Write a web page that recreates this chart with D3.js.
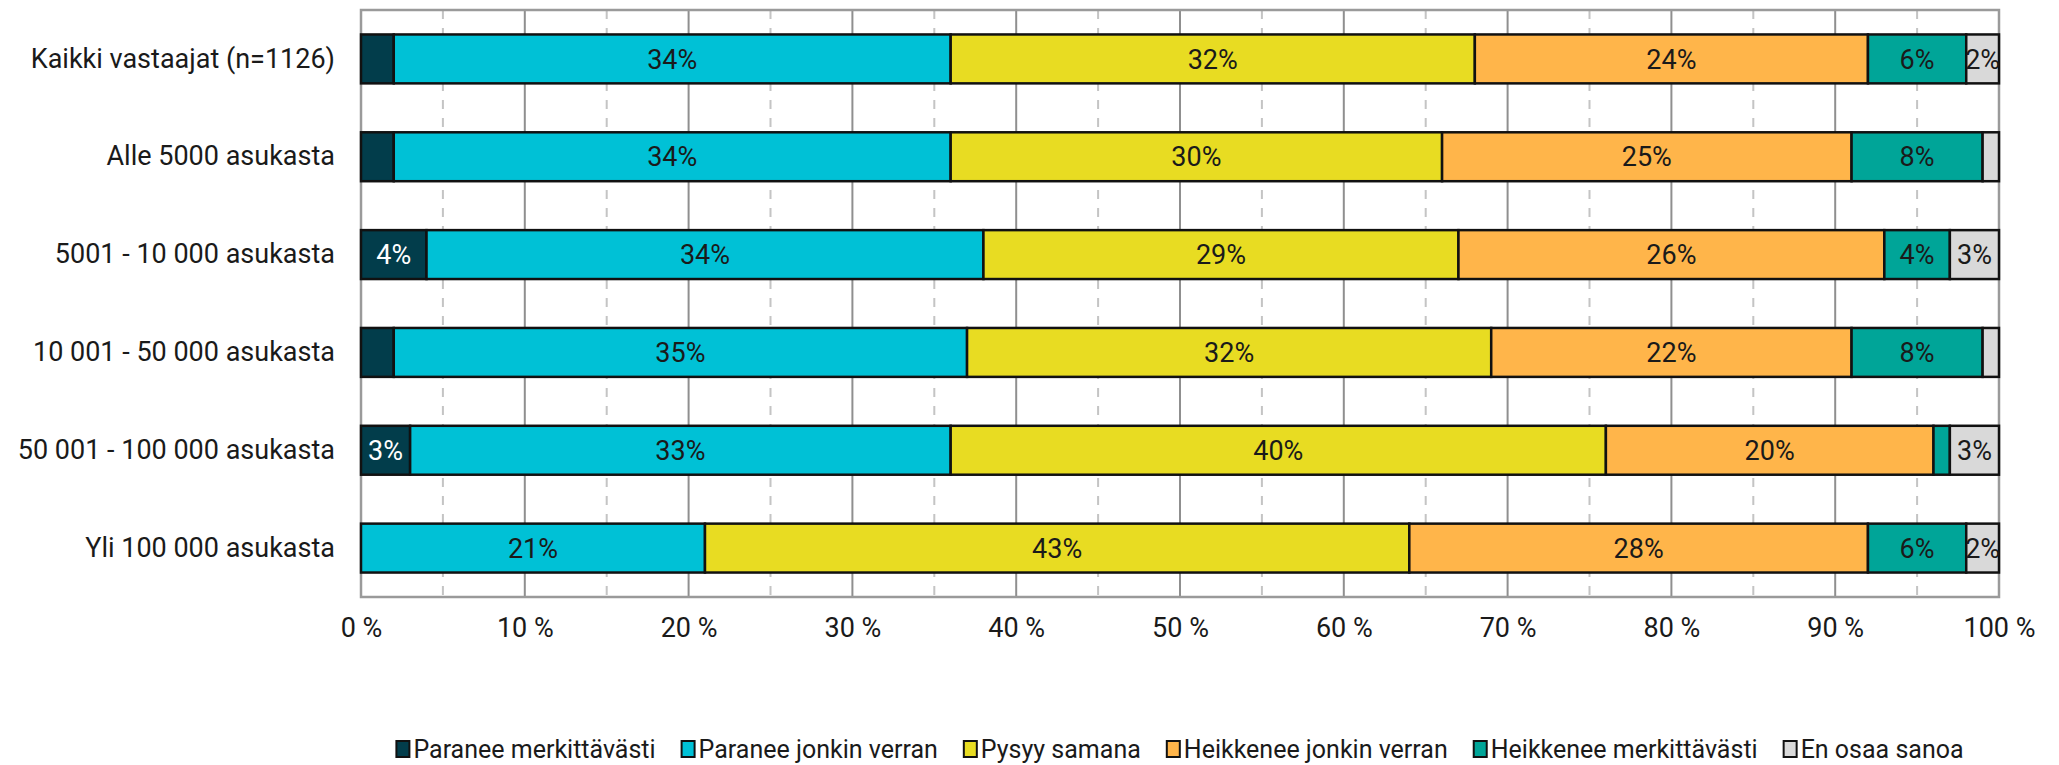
<!DOCTYPE html>
<html>
<head>
<meta charset="utf-8">
<script src="https://cdn.jsdelivr.net/npm/d3@7"></script>
<style>
  body { margin: 0; background: #fff; }
  svg text { font-family: Roboto, "Liberation Sans", sans-serif; fill: #1a1a1a; }
</style>
</head>
<body>
<svg id="chart" width="2059" height="765"></svg>
<script>
const categories = [
  'Kaikki vastaajat (n=1126)',
  'Alle 5000 asukasta',
  '5001 - 10 000 asukasta',
  '10 001 - 50 000 asukasta',
  '50 001 - 100 000 asukasta',
  'Yli 100 000 asukasta'
]
const seriesNames = [
  'Paranee merkittävästi',
  'Paranee jonkin verran',
  'Pysyy samana',
  'Heikkenee jonkin verran',
  'Heikkenee merkittävästi',
  'En osaa sanoa'
]
const paraneeMerkittavasti = [2, 2, 4, 2, 3, 0]
const paraneeJonkin = [34, 34, 34, 35, 33, 21]
const pysyySamana = [32, 30, 29, 32, 40, 43]
const heikkeneeJonkin = [24, 25, 26, 22, 20, 28]
const heikkeneeMerkittavasti = [6, 8, 4, 8, 1, 6]
const enOsaa = [2, 1, 3, 1, 3, 2]
const xTicks = [0, 10, 20, 30, 40, 50, 60, 70, 80, 90, 100]

const colors = ['#023d4b', '#00c1d6', '#e8dc22', '#ffb54a', '#00a598', '#d9d9d9']
const seriesValues = [paraneeMerkittavasti, paraneeJonkin, pysyySamana, heikkeneeJonkin, heikkeneeMerkittavasti, enOsaa]

const rows = categories.map((c, i) => {
  const r = { cat: c }
  seriesNames.forEach((s, j) => { r[s] = seriesValues[j][i] })
  return r
})

const svg = d3.select('#chart')
const margin = { top: 10, right: 60, bottom: 168, left: 361 }
const width = 2059, height = 765
const fontSize = 27

const x = d3.scaleLinear().domain([0, 100]).range([margin.left, width - margin.right])
const y = d3.scaleBand().domain(categories)
  .range([margin.top, height - margin.bottom])
  .paddingInner(0.5).paddingOuter(0.25)

// grid: dashed at 5 %, solid at 10 %
const halfTicks = d3.range(5, 100, 10)
svg.append('g').selectAll('line').data(halfTicks).join('line')
  .attr('x1', d => x(d)).attr('x2', d => x(d))
  .attr('y1', margin.top).attr('y2', height - margin.bottom)
  .attr('stroke', '#c4c4c4').attr('stroke-width', 2).attr('stroke-dasharray', '9,9')

svg.append('g').selectAll('line').data(xTicks.slice(1, -1)).join('line')
  .attr('x1', d => x(d)).attr('x2', d => x(d))
  .attr('y1', margin.top).attr('y2', height - margin.bottom)
  .attr('stroke', '#8f8f8f').attr('stroke-width', 2)

svg.append('rect')
  .attr('x', x(0)).attr('y', margin.top)
  .attr('width', x(100) - x(0)).attr('height', height - margin.bottom - margin.top)
  .attr('fill', 'none').attr('stroke', '#9a9a9a').attr('stroke-width', 2.5)

const stacked = d3.stack().keys(seriesNames)(rows)

const layers = svg.append('g').selectAll('g').data(stacked).join('g')
  .attr('fill', (d, i) => colors[i])

layers.selectAll('rect').data(d => d).join('rect')
  .filter(d => d[1] - d[0] > 0)
  .attr('x', d => x(d[0]))
  .attr('y', d => y(d.data.cat))
  .attr('width', d => x(d[1]) - x(d[0]))
  .attr('height', y.bandwidth())
  .attr('stroke', '#111').attr('stroke-width', 2.5)

// value labels
layers.each(function (layer, i) {
  d3.select(this).selectAll('text').data(layer).join('text')
    .filter(d => { const v = d[1] - d[0]; return v >= 3 || (i === 5 && v >= 2) })
    .attr('x', d => x((d[0] + d[1]) / 2))
    .attr('y', d => y(d.data.cat) + y.bandwidth() / 2)
    .attr('dy', '0.36em')
    .attr('text-anchor', 'middle')
    .style('font-size', fontSize + 'px')
    .style('fill', i === 0 ? '#ffffff' : '#1a1a1a')
    .text(d => Math.round(d[1] - d[0]) + '%')
})

// axes
const xAxis = svg.append('g')
  .attr('transform', `translate(0,${height - margin.bottom})`)
  .call(d3.axisBottom(x).tickValues(xTicks).tickSize(0).tickPadding(21).tickFormat(d => d + ' %'))
xAxis.select('.domain').remove()
xAxis.selectAll('text').style('font-size', fontSize + 'px').attr('fill', null)

const yAxis = svg.append('g')
  .attr('transform', `translate(${margin.left},0)`)
  .call(d3.axisLeft(y).tickSize(0).tickPadding(26))
yAxis.select('.domain').remove()
yAxis.selectAll('text').style('font-size', fontSize + 'px').attr('fill', null)

// legend: laid out in a row, centred under the span the original used
const legendFont = 25
const legend = svg.append('g').attr('transform', 'translate(0,749)')
const items = legend.selectAll('g').data(seriesNames).join('g')
items.append('rect')
  .attr('x', 0).attr('y', -8).attr('width', 13).attr('height', 16)
  .attr('fill', (d, i) => colors[i]).attr('stroke', '#111').attr('stroke-width', 2)
items.append('text')
  .attr('x', 17).attr('dy', '0.36em')
  .style('font-size', legendFont + 'px')
  .text(d => d)

const gap = 26
let cursor = 0
const offsets = []
items.each(function () {
  offsets.push(cursor)
  cursor += this.getBBox().width + gap
})
const total = cursor - gap
const start = (377 + 1983) / 2 - total / 2
items.attr('transform', (d, i) => `translate(${start + offsets[i]},0)`)
</script>
</body>
</html>
